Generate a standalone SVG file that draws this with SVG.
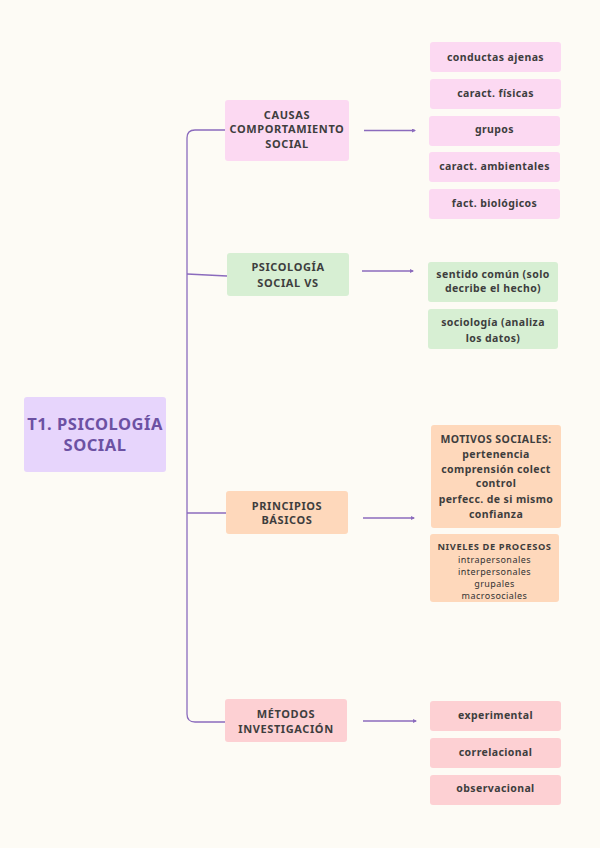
<svg xmlns="http://www.w3.org/2000/svg" width="600" height="848" viewBox="0 0 600 848">
<defs>
<style>
.t{font-family:"Noto Sans","Liberation Sans",sans-serif;font-weight:bold;fill:#3e3e3e;text-anchor:middle;}
.s{font-size:11px;letter-spacing:0.6px;}
.c{font-size:10.5px;letter-spacing:0.4px;}
.n{font-size:9px;font-weight:normal;letter-spacing:0.45px;fill:#333;}
.h{font-size:9.3px;letter-spacing:0.6px;}
.r{font-size:16.5px;letter-spacing:0.5px;fill:#6c51a3;}
.pink{fill:#fcd9f2;}
.green{fill:#d7efd3;}
.peach{fill:#fed8bb;}
.red{fill:#fdd0d3;}
.ln{fill:none;stroke:#8b6bbd;stroke-width:1.3;}
</style>
<marker id="ah" markerWidth="4" markerHeight="4" refX="3" refY="2" orient="auto" markerUnits="userSpaceOnUse">
<path d="M0,0 L4,2 L0,4 Z" fill="#8b6bbd"/>
</marker>
</defs>
<rect width="600" height="848" fill="#fdfbf5"/>
<g id="connectors">
<path class="ln" d="M225,130 H195 Q187,130 187,138 V714 Q187,722 195,722 H225"/>
<path class="ln" d="M187,274 L227,276"/>
<path class="ln" d="M187,513 H226"/>
<path class="ln" d="M364,130.5 H415" marker-end="url(#ah)"/>
<path class="ln" d="M362,271 H413" marker-end="url(#ah)"/>
<path class="ln" d="M363,518 H414" marker-end="url(#ah)"/>
<path class="ln" d="M363,721 H416" marker-end="url(#ah)"/>
</g>
<g id="root">
<rect x="24" y="397" width="142" height="75" rx="3" fill="#e7d5fc"/>
<text class="t r" x="95" y="430">T1. PSICOLOGÍA</text>
<text class="t r" x="95" y="451">SOCIAL</text>
</g>
<g id="causas">
<rect class="pink" x="225" y="100" width="124" height="61" rx="3"/>
<text class="t s" x="287" y="119">CAUSAS</text>
<text class="t s" x="287" y="133">COMPORTAMIENTO</text>
<text class="t s" x="287" y="148">SOCIAL</text>
</g>
<g id="psicologia">
<rect class="green" x="227" y="253" width="122" height="43" rx="3"/>
<text class="t s" x="288" y="271">PSICOLOGÍA</text>
<text class="t s" x="288" y="287">SOCIAL VS</text>
</g>
<g id="principios">
<rect class="peach" x="226" y="491" width="122" height="43" rx="3"/>
<text class="t s" x="287" y="510">PRINCIPIOS</text>
<text class="t s" x="287" y="524">BÁSICOS</text>
</g>
<g id="metodos">
<rect class="red" x="225" y="699" width="122" height="43" rx="3"/>
<text class="t s" x="286" y="718">MÉTODOS</text>
<text class="t s" x="286" y="733">INVESTIGACIÓN</text>
</g>
<g id="conductas">
<rect class="pink" x="430" y="42" width="131" height="30" rx="3"/>
<text class="t c" x="495.5" y="61">conductas ajenas</text>
</g>
<g id="fisicas">
<rect class="pink" x="430" y="79" width="131" height="30" rx="3"/>
<text class="t c" x="495.5" y="97">caract. físicas</text>
</g>
<g id="grupos">
<rect class="pink" x="429" y="116" width="131" height="30" rx="3"/>
<text class="t c" x="494.5" y="133">grupos</text>
</g>
<g id="ambientales">
<rect class="pink" x="429" y="152" width="131" height="30" rx="3"/>
<text class="t c" x="494.5" y="170">caract. ambientales</text>
</g>
<g id="biologicos">
<rect class="pink" x="429" y="189" width="131" height="30" rx="3"/>
<text class="t c" x="494.5" y="207">fact. biológicos</text>
</g>
<g id="sentido">
<rect class="green" x="428" y="262" width="130" height="40" rx="3"/>
<text class="t c" x="493" y="278">sentido común (solo</text>
<text class="t c" x="493" y="292">decribe el hecho)</text>
</g>
<g id="sociologia">
<rect class="green" x="428" y="309" width="130" height="40" rx="3"/>
<text class="t c" x="493" y="326">sociología (analiza</text>
<text class="t c" x="493" y="342">los datos)</text>
</g>
<g id="motivos">
<rect class="peach" x="431" y="425" width="130" height="103" rx="3"/>
<text class="t c" x="496" y="443">MOTIVOS SOCIALES:</text>
<text class="t c" x="496" y="458">pertenencia</text>
<text class="t c" x="496" y="473">comprensión colect</text>
<text class="t c" x="496" y="487">control</text>
<text class="t c" x="496" y="503">perfecc. de si mismo</text>
<text class="t c" x="496" y="518">confianza</text>
</g>
<g id="niveles">
<rect class="peach" x="430" y="534" width="129" height="68" rx="3"/>
<text class="t h" x="494.5" y="549.5">NIVELES DE PROCESOS</text>
<text class="t n" x="494.5" y="562.5">intrapersonales</text>
<text class="t n" x="494.5" y="575">interpersonales</text>
<text class="t n" x="494.5" y="587">grupales</text>
<text class="t n" x="494.5" y="599">macrosociales</text>
</g>
<g id="experimental">
<rect class="red" x="430" y="701" width="131" height="30" rx="3"/>
<text class="t c" x="495.5" y="719">experimental</text>
</g>
<g id="correlacional">
<rect class="red" x="430" y="738" width="131" height="30" rx="3"/>
<text class="t c" x="495.5" y="756">correlacional</text>
</g>
<g id="observacional">
<rect class="red" x="430" y="775" width="131" height="30" rx="3"/>
<text class="t c" x="495.5" y="792">observacional</text>
</g>
</svg>
